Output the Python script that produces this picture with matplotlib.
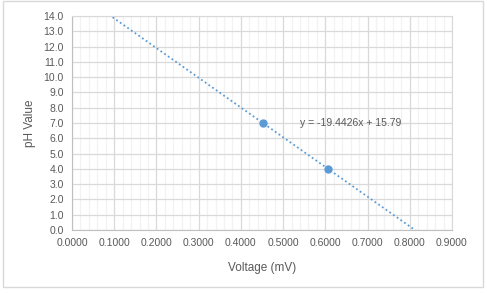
import matplotlib.pyplot as plt
from matplotlib.patches import Rectangle
import numpy as np

# measured points
voltage = [0.4521, 0.6064]
ph = [7.0, 4.0]

# trendline from excel
slope = -19.4426
intercept = 15.79
eq_label = "y = -19.4426x + 15.79"

xticks = np.arange(0, 0.9001, 0.1)
yticks = np.arange(0, 14.01, 1.0)

blue = '#5B9BD5'
txt = '#595959'
plt.rcParams['font.family'] = ['Liberation Sans', 'DejaVu Sans']

fig = plt.figure(figsize=(4.87, 2.93), dpi=100)
# chart border like excel chart object
fig.patches.append(Rectangle((3 / 487, 6 / 293), 480 / 487, 286 / 293, transform=fig.transFigure,
                             fill=False, edgecolor='#d9d9d9', linewidth=1))

ax = fig.add_axes([72 / 487, 63 / 293, 380 / 487, 214 / 293])
ax.set_xlim(0, 0.9)
ax.set_ylim(0, 14)

ax.set_xticks(xticks)
ax.set_xticks(np.arange(0, 0.9001, 0.02), minor=True)
ax.set_yticks(yticks)
ax.set_xticklabels(['%.4f' % v for v in xticks])
ax.set_yticklabels(['%.1f' % v for v in yticks])
ax.grid(which='major', color='#d9d9d9', linewidth=0.9)
ax.grid(which='minor', axis='x', color='#f2f2f2', linewidth=0.9)
ax.set_axisbelow(True)
ax.tick_params(which='both', length=0, labelsize=7.5, labelcolor=txt, pad=6)

for s in ['top', 'right']:
    ax.spines[s].set_color('#d9d9d9')
for s in ['left', 'bottom']:
    ax.spines[s].set_color('#bfbfbf')

# trendline, clipped by the axes
xs = np.array([0.0, 0.9])
ax.plot(xs, slope * xs + intercept, linestyle=(0, (1, 1.5)), color=blue, linewidth=1.3)
ax.plot(voltage, ph, 'o', color=blue, markersize=5)

ax.text(0.54, 7.0, eq_label, fontsize=7.5, color=txt, va='center', ha='left')

ax.set_xlabel('Voltage (mV)', fontsize=8.5, color=txt)
ax.set_ylabel('pH Value', fontsize=8.5, color=txt)
ax.xaxis.set_label_coords(0.5, -0.15)
ax.yaxis.set_label_coords(-0.095, 0.5)

plt.savefig('out.png', dpi=100)
